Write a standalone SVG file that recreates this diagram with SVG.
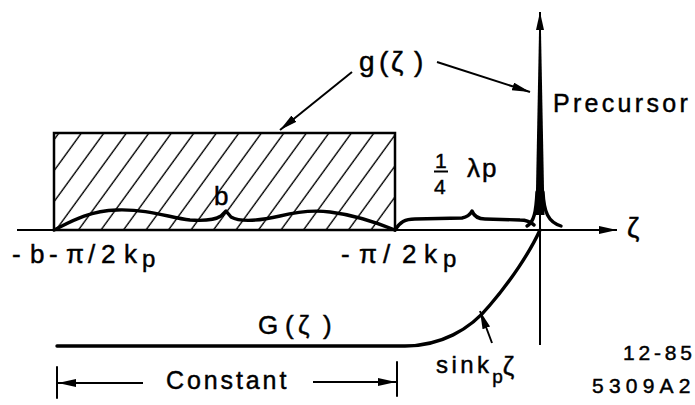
<svg xmlns="http://www.w3.org/2000/svg" width="695" height="405" viewBox="0 0 695 405">
<style>
text{font-family:"Liberation Sans",Arial,sans-serif;fill:#000;stroke:#000;stroke-width:0.45}
.ln{fill:none;stroke:#000;stroke-width:2;stroke-linecap:round}
.thick{fill:none;stroke:#000;stroke-width:3.4;stroke-linecap:round;stroke-linejoin:round}
.arr{fill:none;stroke:#000;stroke-width:2;marker-end:url(#ah)}
</style>
<defs>
<marker id="ah" markerUnits="userSpaceOnUse" markerWidth="20" markerHeight="10" refX="18" refY="4" orient="auto">
<path d="M0,0 L18,4 L0,8 Z" fill="#000"/>
</marker>
<pattern id="hatch" patternUnits="userSpaceOnUse" width="22.5" height="20" patternTransform="translate(0,230) skewX(-36)">
<line x1="11" y1="-1" x2="11" y2="21" stroke="#000" stroke-width="1.7"/>
</pattern>
</defs>
<rect width="695" height="405" fill="#fff"/>

<g id="g-block">
<rect x="54" y="133" width="341" height="97" fill="url(#hatch)" stroke="#000" stroke-width="2.5"/>
</g>

<g id="connectors">
<line class="arr" x1="17" y1="230" x2="617" y2="230"/>
<line class="arr" x1="540" y1="345" x2="540" y2="12"/>
<line class="arr" x1="352" y1="72" x2="280" y2="130"/>
<line class="arr" x1="437" y1="62" x2="530" y2="92"/>
<line class="arr" x1="492" y1="343" x2="480" y2="311"/>
<line class="arr" x1="143" y1="383" x2="58" y2="383"/>
<line class="arr" x1="313" y1="382" x2="396" y2="382"/>
<line class="ln" x1="57" y1="367" x2="57" y2="398"/>
<line class="ln" x1="397" y1="362" x2="397" y2="396"/>
</g>

<g id="g-curve">
<path class="thick" d="M54,230 C70,222 88,211 117,210 C150,209 170,218 190,220 C205,221 215,220 221,216 L226,211 L231,217 C240,222 258,221 280,216 C300,211 315,210 330,212 C355,215 380,224 395,230"/>
<path class="thick" d="M395,230 C400,222 405,219 415,219 L462,218 C467,217 470,215 472,211 C474,216 478,219 485,219 L520,220 C527,220 531,222 534,225"/>
<path d="M535.5,215 L539,32 L541,32 L544.5,215 Z" fill="#000"/>
<path class="thick" stroke-width="2.6" d="M527,226 C534,222 536,212 537,192"/>
<path class="thick" stroke-width="2.6" d="M543,192 C544,212 548,222 561,226"/>
</g>

<g id="G-curve">
<path class="thick" d="M57,346 L405,346 C440,346 470,330 490,305 C510,282 530,252 540,230"/>
</g>

<g id="label-g"><text font-size="28" y="71"><tspan x="359">g</tspan><tspan x="379">(</tspan><tspan x="391">ζ</tspan><tspan x="414">)</tspan></text></g>
<g id="label-precursor"><text font-size="25" x="553" y="112" letter-spacing="3.3">Precursor</text></g>
<g id="label-zeta"><text font-size="28" x="627" y="237">ζ</text></g>
<g id="label-quarter">
<text font-size="21" x="435" y="168">1</text>
<line x1="434" y1="171.5" x2="448" y2="171.5" stroke="#000" stroke-width="2"/>
<text font-size="21" x="434" y="194">4</text>
<text font-size="26" x="467" y="177" letter-spacing="2">λp</text>
</g>
<g id="label-b"><text font-size="26" x="214" y="205">b</text></g>
<g id="label-left"><text font-size="26" y="263"><tspan x="12">-</tspan><tspan x="30">b</tspan><tspan x="49">-</tspan><tspan x="66">π</tspan><tspan x="88">/</tspan><tspan x="101">2</tspan><tspan x="124">k</tspan><tspan x="142" dy="4" font-size="24">p</tspan></text></g>
<g id="label-right"><text font-size="26" y="263"><tspan x="341">-</tspan><tspan x="359">π</tspan><tspan x="383">/</tspan><tspan x="402">2</tspan><tspan x="424">k</tspan><tspan x="443" dy="4" font-size="24">p</tspan></text></g>
<g id="label-G"><text font-size="26" y="334"><tspan x="258">G</tspan><tspan x="285">(</tspan><tspan x="298">ζ</tspan><tspan x="323">)</tspan></text></g>
<g id="label-sink"><text font-size="24" x="436" y="373" letter-spacing="3.4">sink<tspan font-size="19" dy="10" letter-spacing="0">p</tspan><tspan font-size="26" dy="-8">ζ</tspan></text></g>
<g id="label-constant"><text font-size="25" x="166" y="389" letter-spacing="2.9">Constant</text></g>
<g id="label-date"><text font-size="21" x="623" y="360" letter-spacing="3.8">12-85</text><text font-size="21" x="592" y="393" letter-spacing="5.2">5309A2</text></g>
</svg>
